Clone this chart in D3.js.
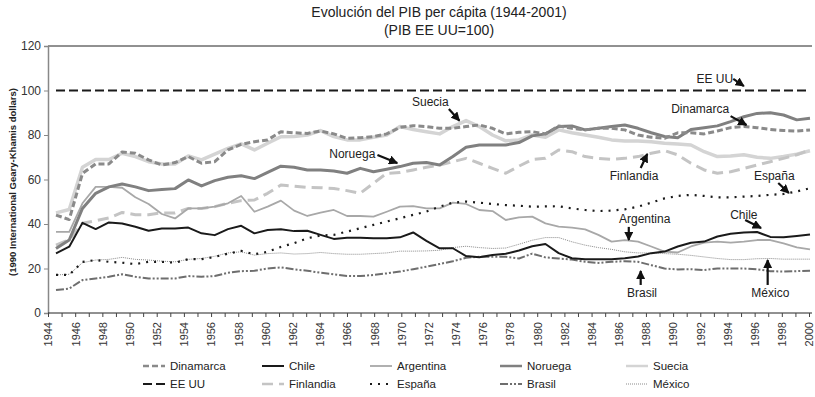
<!DOCTYPE html>
<html>
<head>
<meta charset="utf-8">
<script src="https://cdn.jsdelivr.net/npm/d3@7"></script>
<style>
  html, body { margin: 0; padding: 0; background: #fff; }
  svg { display: block; font-family: "Liberation Sans", Arial, sans-serif; }
</style>
</head>
<body>
<svg id="chart" width="815" height="397"></svg>
<script>
// GDP per capita relative to the US (US = 100), 1944-2001
const years = d3.range(1944, 2002);
const tickYears = d3.range(1944, 2001);
const yTicks = [0, 20, 40, 60, 80, 100, 120];

const dinamarca = [44, 42, 62.7, 67, 67, 72.4, 71.8, 68.8, 66.5, 67.6, 70.3, 67.3, 68, 73.3, 75.8, 77, 77.8, 81.5, 81, 80.7,
  81.8, 80.5, 78.5, 78.8, 79.3, 80.5, 83.4, 84.2, 83.8, 83, 83, 83.8, 84.5, 83, 80.5, 81.2, 81.5, 80.5, 84, 83,
  82.3, 83, 83, 82.3, 80, 79, 78.5, 81, 81, 80.5, 81.8, 83.3, 83.8, 83.3, 82.5, 82, 81.8, 82.3];
const chile = [26.8, 29.8, 40.5, 37.7, 40.7, 40.2, 38.8, 37, 38, 38, 38.4, 35.8, 35, 37.7, 39.2, 35.8, 37.3, 37.6, 36.8, 37,
  35.1, 33.3, 33.8, 33.8, 33.6, 33.6, 34, 36.2, 32.4, 29.1, 29.1, 25.6, 25.1, 26.1, 26.6, 28.1, 30, 31, 26.9, 24.6,
  24.2, 24.2, 24.2, 24.6, 25.4, 26.9, 27.6, 29.9, 31.6, 32.1, 34.4, 35.6, 36.2, 36.4, 34.2, 34, 34.6, 35.3];
const argentina = [36.5, 36.5, 49.3, 56.7, 56.7, 56.3, 52, 49, 44.5, 42.5, 47, 47, 47.8, 49.3, 52.6, 45.5, 47.8, 50.5, 46, 43.6,
  45.1, 46.3, 43.6, 43.6, 43.3, 45.5, 47.8, 48, 47, 47, 49.6, 49, 46.3, 45.8, 41.8, 43, 43.3, 40.3, 38.8, 38.4,
  37.6, 35.1, 32.1, 32.8, 32.1, 29.9, 27.6, 27.2, 29.9, 31.6, 32.1, 31.6, 32.1, 32.8, 32.8, 31.3, 29.5, 28.6];
const noruega = [29, 32.8, 47, 53.8, 56.7, 58, 56.7, 55, 55.5, 55.9, 59.8, 57.1, 59.5, 61, 61.7, 60.4, 63.2, 66, 65.5, 64.3,
  64.3, 63.8, 62.8, 65, 63.5, 64.6, 65.8, 67.3, 67.6, 66.5, 70.3, 74.5, 75.5, 75.5, 75.5, 76.6, 79.6, 80.5, 83.8, 84.1,
  82.3, 83, 83.8, 84.5, 83, 81, 79.3, 78.8, 82.5, 83.3, 84.1, 86, 88.2, 89.7, 90, 89, 86.8, 87.5];
const suecia = [45, 46.5, 65.5, 69, 69, 71.8, 70.3, 68, 67, 67, 70.6, 68.8, 71.4, 74, 76, 73.3, 76.3, 79.2, 79.3, 80,
  82, 79.3, 77.8, 77.8, 79, 80, 83.8, 82.5, 81.5, 80.5, 83.8, 86.5, 83.8, 80, 77.4, 77.8, 80, 79, 82.3, 81,
  80, 79, 77.8, 77.3, 77.3, 77, 76.3, 76, 75.5, 72.5, 70.3, 70.6, 71.1, 70, 69.5, 70.3, 71.4, 72.9];
const eeuu = years.map(() => 100);
const finlandia = [30.5, 33, 40.3, 41.5, 42.7, 45.2, 44.2, 44.2, 45, 45, 47, 47, 47.8, 49.3, 50.5, 50.8, 53.8, 57.5, 57, 56.4,
  56.3, 56, 55, 53.8, 58.3, 62.8, 63.1, 64.3, 65.5, 66.5, 68, 69.5, 67.3, 65, 62.8, 66, 69, 69.5, 73.3, 72.5,
  70.3, 69.5, 69, 69.5, 70.3, 71.8, 73, 71.1, 67.3, 64.3, 62.8, 63.5, 65, 66.5, 68, 69.5, 71.1, 73.3];
const espana = [17.1, 17.1, 23, 23.8, 23, 22.6, 22, 23, 23, 22.6, 24.2, 24.2, 25.2, 26.7, 27.9, 26.4, 27.5, 29.7, 31.4, 33.6,
  34.8, 35.1, 36.6, 38.1, 39.6, 41.1, 42.6, 44.1, 45.6, 47.8, 49.6, 50.1, 49.6, 49, 48.5, 48.2, 47.8, 47.9, 48, 47,
  46.3, 45.8, 46, 46.6, 47.8, 49.6, 51.5, 52.6, 53.1, 52.6, 52, 52, 52.3, 52.6, 53.1, 53.5, 54.6, 56.1];
const brasil = [10.3, 11, 14.8, 15.5, 16.3, 17.4, 16.3, 15.5, 15.5, 15.5, 16.6, 16.3, 16.6, 18.1, 18.8, 19, 20, 20.5, 19.6, 19,
  18.1, 17.4, 16.6, 16.6, 17.1, 17.8, 18.6, 19.7, 20.8, 22, 23.3, 24.8, 25.3, 25.3, 25.3, 24.5, 26.7, 25, 24.5, 24,
  23, 22.5, 23, 23.3, 23, 21.5, 20, 19.6, 19.7, 19.3, 20, 20, 20, 19.6, 18.8, 18.6, 18.8, 19];
const mexico = [17.1, 17.4, 22.6, 23.8, 24.1, 25, 24.1, 23.8, 23.3, 23, 24.1, 24.5, 25.5, 27, 27.5, 26, 26.7, 27, 26.5, 26.7,
  27.2, 26.7, 26.4, 26.4, 26.7, 27, 27.8, 27.8, 27.9, 28.2, 29.4, 30, 29.4, 29, 29.2, 30.9, 32.7, 33.9, 33.9, 32,
  30.5, 29.4, 28.6, 27.5, 27, 27, 26.7, 26.4, 25.9, 25.2, 24.5, 24, 24, 24.4, 24.5, 24.2, 24.2, 24.2];

// Series styles, in legend order (two rows of five)
const series = [
  { name: "Dinamarca", values: dinamarca, color: "#8a8a8a", width: 3,   dash: "6,3" },
  { name: "Chile",     values: chile,     color: "#1a1a1a", width: 2,   dash: null },
  { name: "Argentina", values: argentina, color: "#a8a8a8", width: 1.8, dash: null },
  { name: "Noruega",   values: noruega,   color: "#808080", width: 3,   dash: null },
  { name: "Suecia",    values: suecia,    color: "#d4d4d4", width: 3.5, dash: null },
  { name: "EE UU",     values: eeuu,      color: "#1a1a1a", width: 2,   dash: "9,4" },
  { name: "Finlandia", values: finlandia, color: "#c4c4c4", width: 3,   dash: "11,6" },
  { name: "España",    values: espana,    color: "#1a1a1a", width: 2.2, dash: "2,6" },
  { name: "Brasil",    values: brasil,    color: "#6e6e6e", width: 2,   dash: "8,2,2,2,2,2" },
  { name: "México",    values: mexico,    color: "#8a8a8a", width: 1,   dash: "1,1" }
];
const drawOrder = ["Suecia", "Finlandia", "Argentina", "México", "Brasil", "España", "Noruega", "Dinamarca", "Chile", "EE UU"];

// Callout labels with arrows, in data units (year, value)
const callouts = [
  { text: "Suecia",    lx: 1972.3, ly: 93.0,  x1: 1973.7, y1: 91.7, x2: 1974.5, y2: 86.4 },
  { text: "Noruega",   lx: 1966.4, ly: 69.7,  x1: 1968.3, y1: 71.0, x2: 1969.8, y2: 67.4 },
  { text: "EE UU",     lx: 1993.8, ly: 103.4, x1: 1995.2, y1: 105.2, x2: 1996.0, y2: 102.0 },
  { text: "Dinamarca", lx: 1992.7, ly: 89.9,  x1: 1995.0, y1: 88.5, x2: 1996.2, y2: 84.5 },
  { text: "Finlandia", lx: 1987.7, ly: 59.8,  x1: 1988.2, y1: 65.2, x2: 1988.7, y2: 71.5 },
  { text: "España",    lx: 1998.3, ly: 59.8,  x1: 1998.6, y1: 58.4, x2: 1999.4, y2: 53.9 },
  { text: "Argentina", lx: 1988.5, ly: 40.4,  x1: 1987.3, y1: 38.7, x2: 1987.3, y2: 32.8 },
  { text: "Chile",     lx: 1996.0, ly: 42.2,  x1: 1996.1, y1: 41.8, x2: 1997.3, y2: 38.2 },
  { text: "Brasil",    lx: 1988.3, ly: 7.2,   x1: 1988.2, y1: 12.6, x2: 1988.2, y2: 18.9 },
  { text: "México",    lx: 1998.0, ly: 7.2,   x1: 1997.8, y1: 12.6, x2: 1997.8, y2: 23.8 }
];

const svg = d3.select("#chart");
const plot = { left: 48, right: 812, top: 46, bottom: 313 };

const y = d3.scaleLinear().domain([0, 120]).range([plot.bottom, plot.top]);
const xAxisScale = d3.scaleLinear().domain([1944, 2000]).range([plot.left, 809]);
const x = d3.scalePoint().domain(years).range([56, 810]);
const xc = d3.scaleLinear().domain([1944, 2001]).range([56, 810]);

// Title
svg.append("text").attr("x", 439).attr("y", 17).attr("text-anchor", "middle")
  .attr("font-size", 14).attr("fill", "#222").text("Evolución del PIB per cápita (1944-2001)");
svg.append("text").attr("x", 439).attr("y", 35).attr("text-anchor", "middle")
  .attr("font-size", 14).attr("fill", "#222").text("(PIB EE UU=100)");

// Y axis title
svg.append("text")
  .attr("transform", "translate(16,182) rotate(-90)")
  .attr("text-anchor", "middle").attr("font-size", 9.5).attr("font-weight", "bold").attr("fill", "#222")
  .text("(1990 International Geary-Khamis dollars)");

// Top frame line
svg.append("line").attr("x1", plot.left).attr("x2", plot.right)
  .attr("y1", y(120)).attr("y2", y(120)).attr("stroke", "#222").attr("stroke-width", 1);

// Y axis
const yAxis = svg.append("g").attr("transform", `translate(${plot.left},0)`)
  .call(d3.axisLeft(y).tickValues(yTicks).tickSize(4).tickPadding(3));
yAxis.select(".domain").attr("stroke", "#888").attr("stroke-width", 1.5);
yAxis.selectAll(".tick line").attr("stroke", "#888");
yAxis.selectAll("text").attr("font-size", 12).attr("fill", "#333")
  .attr("font-family", "Liberation Sans, Arial, sans-serif");

// X axis
const xAxis = svg.append("g").attr("transform", `translate(0,${plot.bottom})`)
  .call(d3.axisBottom(xAxisScale).tickValues(tickYears).tickSize(4)
    .tickFormat(d => (d % 2 === 0 ? String(d) : "")));
xAxis.select(".domain").attr("stroke", "#222").attr("d", `M${plot.left},0H${plot.right}`);
xAxis.selectAll(".tick line").attr("stroke", "#444");
xAxis.selectAll("text")
  .attr("font-size", 11).attr("fill", "#333").attr("font-family", "Liberation Sans, Arial, sans-serif")
  .attr("transform", "rotate(-90)").attr("text-anchor", "end")
  .attr("x", -9).attr("y", 0).attr("dy", "0.35em");

// Lines
const line = d3.line().x((d, i) => x(years[i])).y(d => y(d));
const byName = new Map(series.map(s => [s.name, s]));
const lines = svg.append("g");
drawOrder.forEach(n => {
  const s = byName.get(n);
  lines.append("path").datum(s.values)
    .attr("d", line).attr("fill", "none")
    .attr("stroke", s.color).attr("stroke-width", s.width)
    .attr("stroke-dasharray", s.dash).attr("stroke-linejoin", "round");
});

// Arrow head
svg.append("defs").append("marker")
  .attr("id", "arrow").attr("viewBox", "0 0 10 10").attr("refX", 9).attr("refY", 5)
  .attr("markerWidth", 4.2).attr("markerHeight", 4.2).attr("orient", "auto")
  .append("path").attr("d", "M0,0L10,5L0,10Z").attr("fill", "#111");

// Callouts
const cg = svg.append("g");
callouts.forEach(c => {
  cg.append("text").attr("x", xc(c.lx)).attr("y", y(c.ly)).attr("text-anchor", "middle")
    .attr("font-size", 12).attr("fill", "#222").text(c.text);
  cg.append("line")
    .attr("x1", xc(c.x1)).attr("y1", y(c.y1)).attr("x2", xc(c.x2)).attr("y2", y(c.y2))
    .attr("stroke", "#111").attr("stroke-width", 2.2).attr("marker-end", "url(#arrow)");
});

// Legend
const legendCols = [143, 262, 370, 500, 626];
const legendRows = [370, 388];
const lg = svg.append("g");
series.forEach((s, i) => {
  const cx = legendCols[i % 5], cy = legendRows[Math.floor(i / 5)];
  lg.append("line").attr("x1", cx).attr("x2", cx + 22).attr("y1", cy - 4).attr("y2", cy - 4)
    .attr("stroke", s.color).attr("stroke-width", Math.min(s.width, 2.5)).attr("stroke-dasharray", s.dash);
  lg.append("text").attr("x", cx + 27).attr("y", cy).attr("font-size", 11.5).attr("fill", "#222").text(s.name);
});
</script>
</body>
</html>
